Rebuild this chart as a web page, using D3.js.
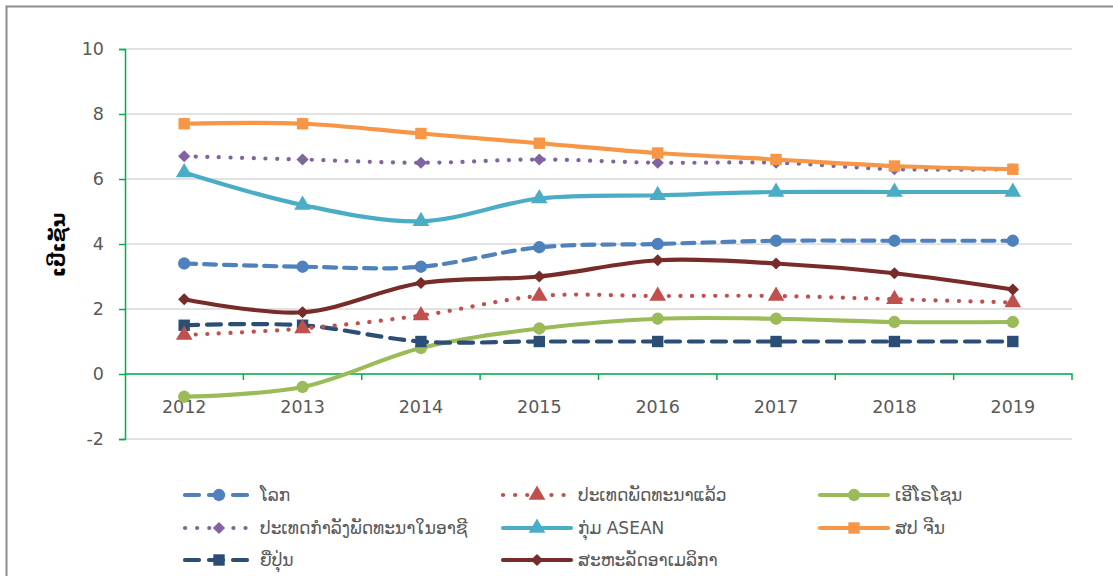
<!DOCTYPE html>
<html>
<head>
<meta charset="utf-8">
<script src="https://cdn.jsdelivr.net/npm/d3@7"></script>
<style>
  body { margin: 0; background: #fff; }
  text { font-family: "DejaVu Sans", sans-serif; }
</style>
</head>
<body>
<svg width="1113" height="576"></svg>
<script>
// data
var years = ["2012", "2013", "2014", "2015", "2016", "2017", "2018", "2019"];
var yTicks = [-2, 0, 2, 4, 6, 8, 10];

var world = [3.4, 3.3, 3.3, 3.9, 4.0, 4.1, 4.1, 4.1];
var developed = [1.2, 1.4, 1.8, 2.4, 2.4, 2.4, 2.3, 2.2];
var euro = [-0.7, -0.4, 0.8, 1.4, 1.7, 1.7, 1.6, 1.6];
var devAsia = [6.7, 6.6, 6.5, 6.6, 6.5, 6.5, 6.3, 6.3];
var asean = [6.2, 5.2, 4.7, 5.4, 5.5, 5.6, 5.6, 5.6];
var china = [7.7, 7.7, 7.4, 7.1, 6.8, 6.6, 6.4, 6.3];
var japan = [1.5, 1.5, 1.0, 1.0, 1.0, 1.0, 1.0, 1.0];
var usa = [2.3, 1.9, 2.8, 3.0, 3.5, 3.4, 3.1, 2.6];

var yTitle = "ເປີເຊັນ";

// series in legend order (row by row)
var series = [
  {name: "ໂລກ", values: world, color: "#4f81bd", dash: "12 8", marker: "circle"},
  {name: "ປະເທດພັດທະນາແລ້ວ", values: developed, color: "#c0504d", dash: "0.1 11.5", marker: "triangle"},
  {name: "ເອີໂຣໂຊນ", values: euro, color: "#9bbb59", dash: null, marker: "circle"},
  {name: "ປະເທດກຳລັງພັດທະນາໃນອາຊີ", values: devAsia, color: "#8064a2", dash: "0.1 11.5", marker: "diamond"},
  {name: "ກຸ່ມ ASEAN", values: asean, color: "#4bacc6", dash: null, marker: "triangle"},
  {name: "ສປ ຈີນ", values: china, color: "#f79646", dash: null, marker: "square"},
  {name: "ຍີ່ປຸ່ນ", values: japan, color: "#2c4d75", dash: "14 9", marker: "square"},
  {name: "ສະຫະລັດອາເມລິກາ", values: usa, color: "#772c2a", dash: null, marker: "diamond"}
];

var svg = d3.select("svg"),
    width = +svg.attr("width"),
    height = +svg.attr("height");

// outer frame
svg.append("rect")
  .attr("x", 6.5).attr("y", 6.5)
  .attr("width", 1120).attr("height", 600)
  .attr("fill", "none")
  .attr("stroke", "#8c8c8c")
  .attr("stroke-width", 2);

var x = d3.scaleBand().domain(years).range([125, 1072]);
var y = d3.scaleLinear().domain([-2, 10]).range([439, 49]);

var axisColor = "#00b050";

// gridlines
svg.append("g")
  .selectAll("line")
  .data(yTicks)
  .join("line")
    .attr("x1", 125).attr("x2", 1072)
    .attr("y1", function(d){ return y(d); })
    .attr("y2", function(d){ return y(d); })
    .style("stroke", "#d9d9d9")
    .style("stroke-width", 1.3);

// y axis
var yAxis = svg.append("g")
  .attr("transform", "translate(125,0)")
  .call(d3.axisLeft(y).tickValues(yTicks).tickSize(6).tickPadding(15).tickFormat(function(d){ return String(d); }));
yAxis.select(".domain").attr("stroke", axisColor).attr("stroke-width", 1.5);
yAxis.selectAll(".tick line").attr("stroke", axisColor).attr("stroke-width", 1.5);
yAxis.selectAll("text").attr("fill", "#595959").style("font-size", "17.5px");

// x axis at zero
var xAxis = svg.append("g")
  .attr("transform", "translate(0," + y(0) + ")")
  .call(d3.axisBottom(x).tickSize(0).tickPadding(27));
xAxis.select(".domain").attr("stroke", axisColor).attr("stroke-width", 1.5)
  .attr("d", "M125,0H1072V6");
xAxis.selectAll("text").attr("fill", "#595959").style("font-size", "17.5px");
// boundary ticks
svg.append("g")
  .selectAll("line")
  .data(years.slice(1))
  .join("line")
    .attr("x1", function(d){ return x(d); })
    .attr("x2", function(d){ return x(d); })
    .attr("y1", y(0)).attr("y2", y(0) + 6)
    .style("stroke", axisColor)
    .style("stroke-width", 1.5);

// y title
svg.append("text")
  .attr("transform", "translate(65,245) rotate(-90)")
  .attr("text-anchor", "middle")
  .style("font-size", "20px")
  .style("font-weight", "bold")
  .attr("fill", "#000")
  .text(yTitle);

var cx = function(i){ return x(years[i]) + x.bandwidth() / 2; };

var line = d3.line()
  .x(function(d, i){ return cx(i); })
  .y(function(d){ return y(d); })
  .curve(d3.curveCatmullRom.alpha(0.5));

function markerPath(type) {
  if (type === "diamond") return d3.symbol().type(d3.symbolSquare).size(75)();
  var sym = {circle: d3.symbolCircle, triangle: d3.symbolTriangle, square: d3.symbolSquare}[type];
  var size = {circle: 120, triangle: 120, square: 130}[type];
  return d3.symbol().type(sym).size(size)();
}
function markerRot(type) { return type === "diamond" ? " rotate(45)" : ""; }

// draw lines
var drawOrder = [2, 6, 1, 7, 0, 4, 3, 5];
drawOrder.forEach(function(k) {
  var s = series[k];
  svg.append("path")
    .datum(s.values)
    .attr("d", line)
    .style("fill", "none")
    .style("stroke", s.color)
    .style("stroke-width", 4.2)
    .style("stroke-linecap", "round")
    .style("stroke-dasharray", s.dash);
  svg.append("g")
    .selectAll("path")
    .data(s.values)
    .join("path")
      .attr("transform", function(d, i){ return "translate(" + cx(i) + "," + y(d) + ")" + markerRot(s.marker); })
      .attr("d", markerPath(s.marker))
      .style("fill", s.color);
});

// legend
var legX = [185, 503, 820];
var legY = [495, 528, 560];
var legend = svg.append("g")
  .selectAll("g")
  .data(series)
  .join("g")
    .attr("transform", function(d, i){ return "translate(" + legX[i % 3] + "," + legY[Math.floor(i / 3)] + ")"; });

legend.append("line")
  .attr("x1", 0).attr("x2", 68)
  .attr("y1", 0).attr("y2", 0)
  .style("stroke", function(d){ return d.color; })
  .style("stroke-width", 4.2)
  .style("stroke-linecap", "round")
  .style("stroke-dasharray", function(d){ return d.dash ? (d.dash.indexOf("0.1") === 0 ? "0.1 12" : "14 10") : null; });

legend.append("path")
  .attr("transform", function(d){ return "translate(34,0)" + markerRot(d.marker); })
  .attr("d", function(d){ return markerPath(d.marker); })
  .style("fill", function(d){ return d.color; });

legend.append("text")
  .attr("x", 75)
  .attr("y", 0)
  .attr("dy", "0.35em")
  .attr("fill", "#595959")
  .style("font-size", "17px")
  .text(function(d){ return d.name; });
</script>
</body>
</html>
